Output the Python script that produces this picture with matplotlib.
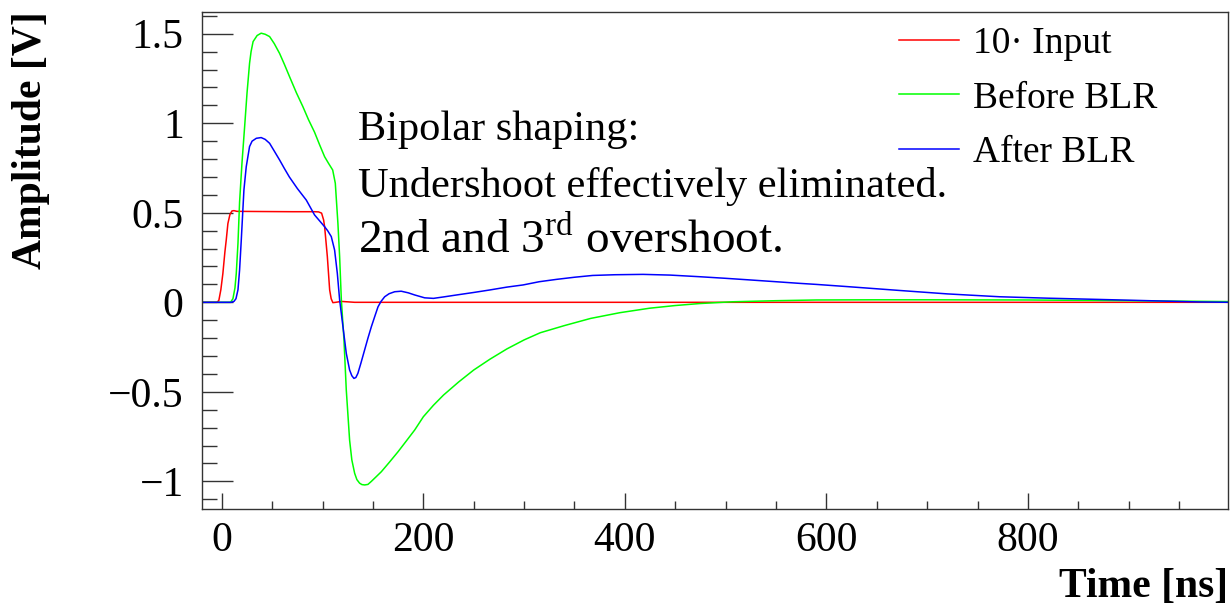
"""
Baseline restorer (BLR) test: input pulse, shaped pulse before and after BLR.
Writes out.png
"""

import matplotlib
matplotlib.use("Agg")
import matplotlib.pyplot as plt
from matplotlib.ticker import MultipleLocator

# ---------------------------------------------------------------------------
# Data, time in ns, amplitude in V
# ---------------------------------------------------------------------------
t_input = [-20, -5, -3, -1, 1, 3, 4.4, 6, 8, 10, 12, 15, 40, 70, 92, 96, 99,
           101, 102, 103.5, 104.7, 106, 107, 108.5, 110.2, 113, 118.6, 131.8,
           200, 400, 600, 800, 1000]
v_input = [0, 0, 0.01, 0.07, 0.16, 0.28, 0.35, 0.44, 0.49, 0.51, 0.512, 0.508,
           0.507, 0.506, 0.506, 0.505, 0.498, 0.46, 0.422, 0.33, 0.255, 0.15,
           0.069, 0.02, -0.002, 0.0, 0.005, 0.0, 0, 0, 0, 0, 0]

t_before = [-20, 0, 8.6, 11, 13, 14.3, 16, 17.6, 20, 22.6, 25, 27.5, 29, 31,
            35, 39, 43, 47.4, 52, 57.3, 62, 67.2, 74, 80.4, 86, 92, 97, 102,
            106, 110, 112.6, 115.2, 116.9, 118.6, 121.2, 123.5, 126.8, 129,
            131.8, 134, 136.7, 139, 141.8, 145, 148.4, 153, 158.3, 166, 174.8,
            183, 191.4, 200, 210, 220, 235, 250, 266, 283, 300, 316, 340, 366,
            395, 424.5, 450, 474, 507, 550, 590, 650, 700, 800, 900, 1000]
v_before = [0, 0, 0, 0.02, 0.08, 0.16, 0.33, 0.56, 0.78, 0.98, 1.17, 1.335,
            1.40, 1.456, 1.49, 1.503, 1.497, 1.484, 1.445, 1.39, 1.33, 1.26,
            1.17, 1.093, 1.02, 0.95, 0.88, 0.813, 0.775, 0.739, 0.665, 0.44,
            0.255, 0.013, -0.21, -0.49, -0.77, -0.88, -0.955, -0.99, -1.01,
            -1.018, -1.02, -1.017, -1.0, -0.975, -0.946, -0.895, -0.835,
            -0.775, -0.713, -0.639, -0.575, -0.518, -0.445, -0.378, -0.318,
            -0.26, -0.21, -0.17, -0.13, -0.09, -0.058, -0.033, -0.018,
            -0.007, 0.003, 0.009, 0.013, 0.014, 0.014, 0.013, 0.009, 0.004]

t_after = [-20, 0, 9.3, 12, 14, 16, 17.6, 19.3, 21.9, 24.2, 27.5, 30, 34.2, 39,
           43, 47.4, 52, 57.3, 62, 67, 75, 83.8, 92, 97, 102, 105, 108.6,
           111.9, 114.6, 116.9, 120.2, 123.5, 126.8, 129, 131.1, 133, 135,
           138, 141.7, 145, 148.4, 152, 155, 158, 161.6, 166, 171.5, 178, 185,
           191.4, 201.3, 210, 220, 233, 250, 266, 283, 299, 315, 332, 350, 368,
           390, 418, 445, 474, 500, 524, 550, 573, 590, 620, 673, 720, 772,
           820, 871, 920, 970, 1000]
v_after = [0, 0, 0, 0.005, 0.02, 0.07, 0.18, 0.35, 0.627, 0.757, 0.87, 0.9,
           0.916, 0.92, 0.91, 0.888, 0.845, 0.795, 0.748, 0.70, 0.635, 0.571,
           0.488, 0.455, 0.422, 0.40, 0.367, 0.292, 0.162, 0.013, -0.136,
           -0.285, -0.378, -0.41, -0.425, -0.42, -0.397, -0.34, -0.266, -0.2,
           -0.136, -0.075, -0.025, 0.005, 0.031, 0.048, 0.059, 0.062, 0.053,
           0.041, 0.025, 0.022, 0.03, 0.041, 0.055, 0.069, 0.085, 0.097,
           0.115, 0.128, 0.14, 0.15, 0.154, 0.156, 0.152, 0.143, 0.134, 0.125,
           0.115, 0.106, 0.10, 0.088, 0.066, 0.047, 0.031, 0.023, 0.016, 0.009,
           0.002, 0.0]

labels = ["10\u00b7 Input", "Before BLR", "After BLR"]
colors = ["#ff0000", "#00ff00", "#0000ff"]

# ---------------------------------------------------------------------------
# Style (ROOT-like: Times font, inward ticks)
# ---------------------------------------------------------------------------
plt.rcParams["font.family"] = ["Liberation Serif", "DejaVu Serif"]
plt.rcParams["mathtext.fontset"] = "custom"
plt.rcParams["mathtext.rm"] = "Liberation Serif"
plt.rcParams["axes.unicode_minus"] = True

W, H = 1232, 609
fig = plt.figure(figsize=(W / 100, H / 100), dpi=100)
ax = fig.add_axes([201.7 / W, 1 - 509.3 / H, (1228.3 - 201.7) / W,
                   (509.3 - 11.7) / H])

for t, v, lab, c in zip([t_input, t_before, t_after],
                        [v_input, v_before, v_after], labels, colors):
    ax.plot(t, v, color=c, lw=1.1, label=lab)

ax.set_xlim(-20, 998.9)
ax.set_ylim(-1.156, 1.623)

ax.xaxis.set_major_locator(MultipleLocator(200))
ax.xaxis.set_minor_locator(MultipleLocator(50))
ax.yaxis.set_major_locator(MultipleLocator(0.5))
ax.yaxis.set_minor_locator(MultipleLocator(0.1))
ax.yaxis.set_major_formatter(plt.FuncFormatter(
    lambda v, _: ("%g" % v).replace("-", "\u2212")))

ax.tick_params(axis="both", which="both", direction="in", width=1.0,
               color="#333333", labelsize=30)
ax.tick_params(axis="y", which="major", length=22, pad=13)
ax.tick_params(axis="y", which="minor", length=11)
ax.tick_params(axis="x", which="major", length=11.5, pad=9)
ax.tick_params(axis="x", which="minor", length=6)
for s in ax.spines.values():
    s.set_linewidth(1.0)
    s.set_color("#333333")

# axis titles, ROOT style (right / top aligned)
fig.text(1228.3 / W, 1 - 597 / H, "Time [ns]", ha="right", va="baseline",
         fontsize=30, fontweight="bold")
fig.text(31 / W, 1 - 11.7 / H, "Amplitude [V]", rotation=90, ha="center",
         va="top", fontsize=30, fontweight="bold")

# annotation
fig.text(357.8 / W, 1 - 140 / H, "Bipolar shaping:", fontsize=30.5,
         va="baseline")
fig.text(357.8 / W, 1 - 196.7 / H, "Undershoot effectively eliminated.",
         fontsize=30.5, va="baseline")
fig.text(357.8 / W, 1 - 253.3 / H, r"2nd and 3$^{\mathrm{rd}}$ overshoot.",
         fontsize=34, va="baseline")

ax.legend(loc="upper left", bbox_to_anchor=(899.3 / W, 1 - 26.7 / H),
          bbox_transform=fig.transFigure, frameon=False, fontsize=27,
          handlelength=1.59, handletextpad=0.37, labelspacing=0.53,
          borderpad=0, borderaxespad=0)

fig.savefig("out.png", dpi=100)
